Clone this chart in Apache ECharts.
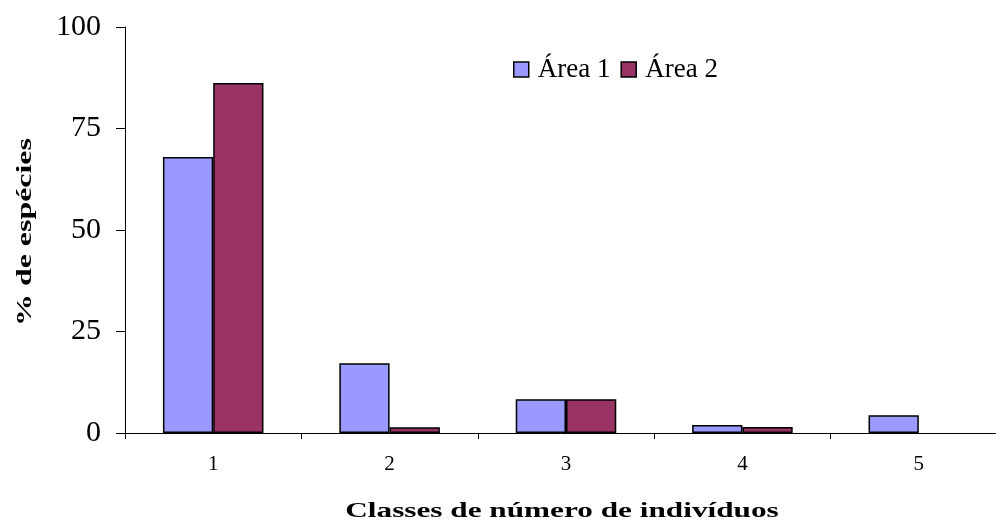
<!DOCTYPE html>
<html>
<head>
<meta charset="utf-8">
<script src="https://cdn.jsdelivr.net/npm/echarts@6/dist/echarts.min.js"></script>
<style>html,body{margin:0;padding:0;background:#fff;}#c{width:996px;height:526px;}</style>
</head>
<body>
<div id="c"></div>
<script>
const categories = ['1', '2', '3', '4', '5'];
const area1 = [68.0, 17.2, 8.3, 2.0, 4.4];
const area2 = [86.2, 1.4, 8.3, 1.5, '-'];
const seriesNames = ['Área 1', 'Área 2'];
const yTicks = [0, 25, 50, 75, 100];
const xTitle = 'Classes de número de indivíduos';
const yTitle = '% de espécies';

const serif = '"Liberation Serif", "Times New Roman", serif';
const chart = echarts.init(document.getElementById('c'));
chart.setOption({
  animation: false,
  backgroundColor: '#fff',
  grid: { left: 125, top: 27, bottom: 93, right: -11, containLabel: false, outerBoundsMode: 'none' },
  legend: {
    data: seriesNames,
    left: 513, top: 56, padding: 0,
    itemWidth: 15, itemHeight: 15, itemGap: 10,
    icon: 'rect',
    itemStyle: { borderColor: '#000', borderWidth: 1.5 },
    textStyle: { fontFamily: serif, fontSize: 27, color: '#000', padding: [0, 0, 0, 4] }
  },
  graphic: [
    {
      type: 'text', x: 562, y: 511, scaleX: 1.42,
      style: { text: xTitle, font: 'bold 22px ' + serif, fill: '#000', align: 'center', verticalAlign: 'middle' }
    },
    {
      type: 'text', x: 25, y: 232, rotation: Math.PI / 2, scaleX: 1.45,
      style: { text: yTitle, font: 'bold 22px ' + serif, fill: '#000', align: 'center', verticalAlign: 'middle' }
    }
  ],
  xAxis: {
    type: 'category',
    data: categories,
    axisLine: { lineStyle: { color: '#000', width: 1 } },
    axisTick: { show: true, length: 6, lineStyle: { color: '#000' } },
    axisLabel: { fontFamily: serif, fontSize: 21, color: '#000', margin: 21 }
  },
  yAxis: {
    type: 'value',
    min: yTicks[0], max: yTicks[yTicks.length - 1], interval: 25,
    axisLine: { show: true, lineStyle: { color: '#000', width: 1 } },
    axisTick: { show: true, length: 9, lineStyle: { color: '#000' } },
    axisLabel: { fontFamily: serif, fontSize: 30, color: '#000', margin: 24 },
    splitLine: { show: false }
  },
  series: [
    {
      name: seriesNames[0], type: 'bar', data: area1,
      barGap: '0%', barCategoryGap: '43%',
      itemStyle: { color: '#9999FF', borderColor: '#000', borderWidth: 1.5 }
    },
    {
      name: seriesNames[1], type: 'bar', data: area2,
      barGap: '0%', barCategoryGap: '43%',
      itemStyle: { color: '#993366', borderColor: '#000', borderWidth: 1.5 }
    }
  ]
});
</script>
</body>
</html>
